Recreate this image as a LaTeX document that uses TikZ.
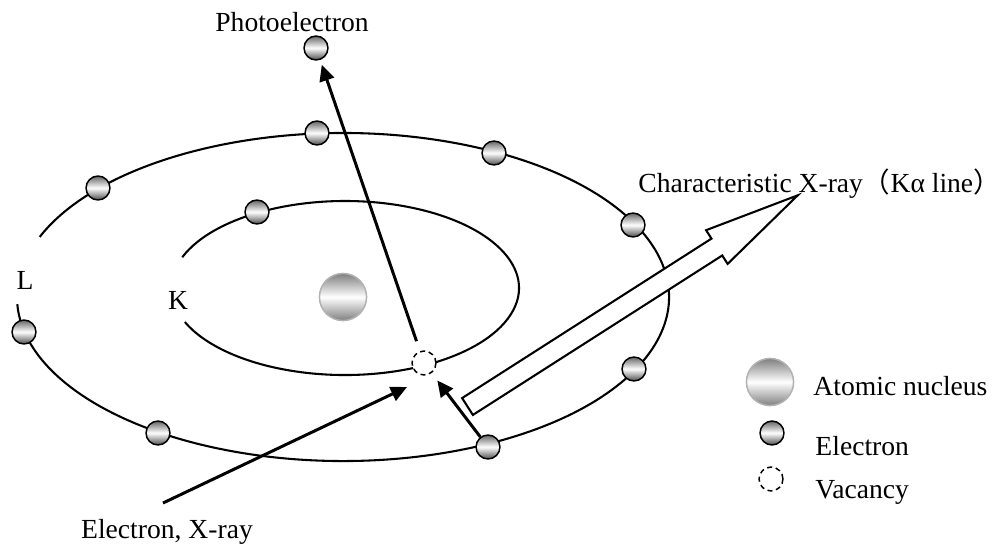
\documentclass[tikz,border=0pt]{standalone}
\usepackage{fontspec}
\setmainfont{Liberation Serif}
\newfontfamily\cjk{Noto Sans CJK SC}
\usetikzlibrary{arrows.meta}

\tikzset{
  orbit/.style={line width=.9pt},
  beam/.style={line width=1.3pt,-{Triangle[length=7pt,width=6.5pt]}},
  ray/.style={line width=.9pt,fill=white,line join=miter},
  electron/.style={circle,draw,line width=.65pt,minimum size=10.4pt,inner sep=0pt,
    top color=black!60,bottom color=black!70,middle color=white},
  nucleus/.style={circle,draw=black!30,line width=.65pt,minimum size=20.5pt,inner sep=0pt,
    top color=black!50,bottom color=black!50,middle color=white},
  vacancy/.style={circle,draw,fill=white,line width=.65pt,dash pattern=on 2.2pt off 1.6pt,
    minimum size=10.4pt,inner sep=0pt},
  label/.style={inner sep=0pt,font=\fontsize{12}{14}\selectfont}
}

\begin{document}
\begin{tikzpicture}[x=0.4348pt,y=-0.4348pt]
  \useasboundingbox (0,0) rectangle (1002,547);

  % the two shells, left open at the letters
  \coordinate (lc) at (343,297);
  \coordinate (kc) at (345,288);
  \draw[orbit] (lc) ++(201.5:326 and 164)
    arc[start angle=201.5,end angle=537.5,x radius=326,y radius=164];
  \draw[orbit] (kc) ++(200.7:174 and 87)
    arc[start angle=200.7,end angle=517,x radius=174,y radius=87];

  % hollow arrow for the emitted ray
  \coordinate (kt) at (467.5,406.5);
  \begin{scope}[shift={(kt)},rotate=32.6]
    \draw[ray] (0,-10) -- (296,-10) -- (296,-20) -- (392,0)
      -- (296,20) -- (296,10) -- (0,10) -- cycle;
  \end{scope}

  \begin{scope}[every node/.style={electron}]
    \node (l1) at (317,133) {};
    \node (l2) at (494,153) {};
    \node (l3) at (633,225) {};
    \node (l4) at (634,369) {};
    \node (l5) at (488,447) {};
    \node (l6) at (158,433) {};
    \node (l7) at (24,332)  {};
    \node (l8) at (98,188)  {};
    \node (k1) at (257,212) {};
    \node (pe) at (316,48)  {};
  \end{scope}

  \node[nucleus] (nuc) at (343,297) {};
  \node[vacancy] (vac) at (424,363) {};

  \coordinate (xin)  at (163,503);
  \coordinate (xhit) at (407,387);
  \draw[beam,shorten <=4.5pt,shorten >=2.2pt] (vac) -- (pe);
  \draw[beam] (xin) -- (xhit);
  \draw[beam,shorten >=4pt] (l5) -- (vac);

  \begin{scope}[every node/.style={label}]
    \node[anchor=base] (tpe) at (292,31)  {Photoelectron};
    \node[anchor=base] (tl)  at (25,289)  {L};
    \node[anchor=base] (tk)  at (178,309) {K};
    \node[anchor=base] (tx)  at (167,538) {Electron, X-ray};
    \node[anchor=base west] (tka) at (638,192)
      {Characteristic X-ray{\cjk （}Kα line{\cjk ）}};
  \end{scope}

  % key
  \node[nucleus]  (kn) at (770,382) {};
  \node[electron] (ke) at (772,433) {};
  \node[vacancy]  (kv) at (771,479) {};
  \begin{scope}[every node/.style={label,anchor=base west}]
    \node (tkn) at (813,395) {Atomic nucleus};
    \node (tke) at (815,455) {Electron};
    \node (tkv) at (815,498) {Vacancy};
  \end{scope}

\end{tikzpicture}
\end{document}
